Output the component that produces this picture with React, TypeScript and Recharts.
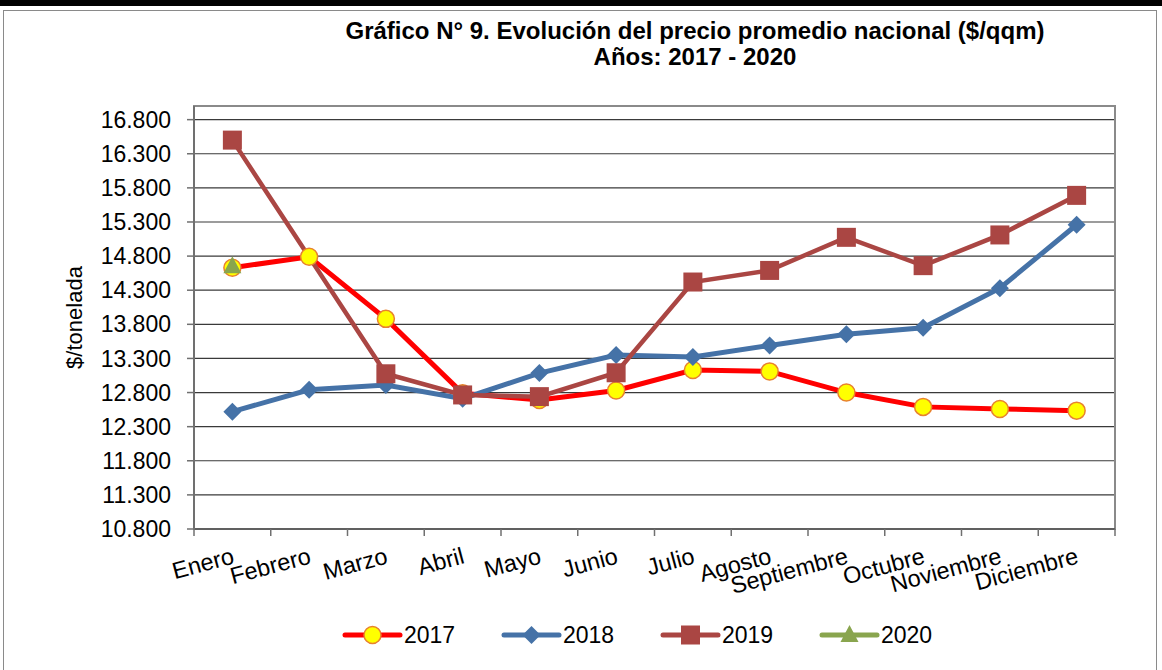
import React from "react";
import {
  LineChart,
  Line,
  XAxis,
  YAxis,
  CartesianGrid,
  ReferenceArea,
} from "recharts";

const MONTHS = [
  "Enero",
  "Febrero",
  "Marzo",
  "Abril",
  "Mayo",
  "Junio",
  "Julio",
  "Agosto",
  "Septiembre",
  "Octubre",
  "Noviembre",
  "Diciembre",
];

const Y2017 = [14630, 14790, 13880, 12790, 12690, 12830, 13130, 13110, 12800, 12590, 12560, 12535];
const Y2018 = [12520, 12840, 12910, 12710, 13085, 13350, 13320, 13490, 13655, 13750, 14330, 15260];
const Y2019 = [16500, null, 13075, 12765, 12740, 13090, 14420, 14590, 15075, 14660, 15110, 15690];
const Y2020 = [14650, null, null, null, null, null, null, null, null, null, null, null];

const Y_TICKS = [10800, 11300, 11800, 12300, 12800, 13300, 13800, 14300, 14800, 15300, 15800, 16300, 16800];
const Y_DOMAIN: [number, number] = [10800, 17000];

const TITLE_1 = "Gráfico N° 9. Evolución del precio promedio nacional ($/qqm)";
const TITLE_2 = "Años: 2017 - 2020";
const Y_LABEL = "$/tonelada";

type Shape = "circle" | "diamond" | "square" | "triangle";
type Series = { key: string; name: string; values: (number | null)[]; color: string; shape: Shape; width: number };

const SERIES: Series[] = [
  { key: "y2017", name: "2017", values: Y2017, color: "#FF0000", shape: "circle", width: 5 },
  { key: "y2018", name: "2018", values: Y2018, color: "#4572A7", shape: "diamond", width: 5 },
  { key: "y2019", name: "2019", values: Y2019, color: "#AA4643", shape: "square", width: 4.5 },
  { key: "y2020", name: "2020", values: Y2020, color: "#89A54E", shape: "triangle", width: 5 },
];

const data = MONTHS.map((m, i) => {
  const row: Record<string, string | number | null> = { pos: i + 0.5, month: m };
  SERIES.forEach((s) => (row[s.key] = s.values[i]));
  return row;
});

const FONT = "'Liberation Sans', Arial, Helvetica, sans-serif";
const W = 1162;
const H = 670;
const MARGIN = { top: 106, right: 47, bottom: 81, left: 0 };
const Y_AXIS_W = 194;
const PLOT_W = W - MARGIN.left - MARGIN.right - Y_AXIS_W;
const STEP = PLOT_W / MONTHS.length;

function Marker({ shape, cx, cy, color }: { shape: Shape; cx: number; cy: number; color: string }) {
  if (shape === "circle")
    return <circle cx={cx} cy={cy} r={8.5} fill="#FFFF00" stroke="#E8822E" strokeWidth={1.5} />;
  if (shape === "diamond")
    return (
      <polygon
        points={`${cx},${cy - 9} ${cx + 9},${cy} ${cx},${cy + 9} ${cx - 9},${cy}`}
        fill={color}
      />
    );
  if (shape === "square")
    return <rect x={cx - 9.5} y={cy - 9.5} width={19} height={19} fill={color} />;
  return (
    <polygon
      points={`${cx},${cy - 10} ${cx + 9},${cy + 7} ${cx - 9},${cy + 7}`}
      fill={color}
    />
  );
}

function makeDot(s: Series) {
  return (props: any) => {
    const { cx, cy, index, value } = props;
    if (value == null || cx == null || cy == null) return <g key={`${s.key}-${index}`} />;
    return (
      <g key={`${s.key}-${index}`}>
        <Marker shape={s.shape} cx={cx} cy={cy} color={s.color} />
      </g>
    );
  };
}

function fmtThousands(v: number) {
  return String(v).replace(/\B(?=(\d{3})+(?!\d))/g, ".");
}

function MonthTick(props: any) {
  const { x, y, payload } = props;
  const i = payload.value;
  if (i >= MONTHS.length) return <g />;
  const tx = x + STEP / 2 + 3;
  const ty = y + 25;
  return (
    <text
      x={tx}
      y={ty}
      textAnchor="end"
      transform={`rotate(-15, ${tx}, ${ty})`}
      fontSize={23.5}
      fontFamily={FONT}
      fill="#000"
    >
      {MONTHS[i]}
    </text>
  );
}

function LegendRow() {
  const x0 = 345;
  const gap = 159;
  return (
    <svg width={W} height={40} style={{ position: "absolute", left: 0, top: 615 }}>
      {SERIES.map((s, i) => {
        const sx = x0 + i * gap;
        return (
          <g key={s.key}>
            <line x1={sx} y1={20} x2={sx + 55} y2={20} stroke={s.color} strokeWidth={5} strokeLinecap="round" />
            <Marker shape={s.shape} cx={sx + 27.5} cy={20} color={s.color} />
            <text x={sx + 59} y={28} fontSize={23} fontFamily={FONT} fill="#000">
              {s.name}
            </text>
          </g>
        );
      })}
    </svg>
  );
}

export default function App() {
  return (
    <div
      style={{
        position: "fixed",
        left: 0,
        top: 0,
        width: W,
        height: H,
        background: "#fff",
        overflow: "hidden",
        fontFamily: FONT,
      }}
    >
      <div style={{ position: "absolute", left: 0, top: 0, width: W, height: 6, background: "#000" }} />
      <div
        style={{
          position: "absolute",
          left: 3,
          top: 10,
          width: W - 8,
          height: H,
          border: "1.5px solid #8a8a8a",
          boxSizing: "border-box",
        }}
      />
      <div
        style={{
          position: "absolute",
          left: 0,
          width: 1390,
          top: 18,
          textAlign: "center",
          fontWeight: "bold",
          fontSize: 24,
          lineHeight: "26px",
          color: "#000",
        }}
      >
        <div>{TITLE_1}</div>
        <div>{TITLE_2}</div>
      </div>

      <div style={{ position: "absolute", left: 0, top: 0 }}>
        <LineChart width={W} height={H} data={data} margin={MARGIN}>
          <CartesianGrid horizontal vertical={false} stroke="#3a3a3a" strokeWidth={1.2} />
          <ReferenceArea
            x1={0}
            x2={12}
            y1={Y_DOMAIN[0]}
            y2={Y_DOMAIN[1]}
            fill="none"
            stroke="#8a8a8a"
            strokeWidth={2}
          />
          <XAxis
            type="number"
            dataKey="pos"
            domain={[0, 12]}
            ticks={[0, 1, 2, 3, 4, 5, 6, 7, 8, 9, 10, 11, 12]}
            interval={0}
            height={60}
            tick={<MonthTick />}
            tickSize={7}
            tickLine={{ stroke: "#707070", strokeWidth: 1.5 }}
            axisLine={{ stroke: "#606060", strokeWidth: 2 }}
          />
          <YAxis
            type="number"
            domain={Y_DOMAIN}
            ticks={Y_TICKS}
            interval={0}
            width={Y_AXIS_W}
            tickFormatter={fmtThousands}
            tickSize={7}
            tickMargin={16}
            tick={{ fontSize: 23, fill: "#000", fontFamily: FONT }}
            tickLine={{ stroke: "#707070", strokeWidth: 1.5 }}
            axisLine={{ stroke: "#707070", strokeWidth: 2 }}
            label={{
              value: Y_LABEL,
              angle: -90,
              position: "center",
              dx: -23,
              style: { fontSize: 22, fill: "#000", fontFamily: FONT },
            }}
          />
          {SERIES.map((s) => (
            <Line
              key={`line-${s.key}`}
              type="linear"
              dataKey={s.key}
              stroke={s.color}
              strokeWidth={s.width}
              dot={false}
              activeDot={false}
              connectNulls
              isAnimationActive={false}
            />
          ))}
          {SERIES.map((s) => (
            <Line
              key={`dots-${s.key}`}
              type="linear"
              dataKey={s.key}
              stroke="none"
              dot={makeDot(s)}
              activeDot={false}
              legendType="none"
              isAnimationActive={false}
            />
          ))}
        </LineChart>
      </div>

      <LegendRow />
    </div>
  );
}
